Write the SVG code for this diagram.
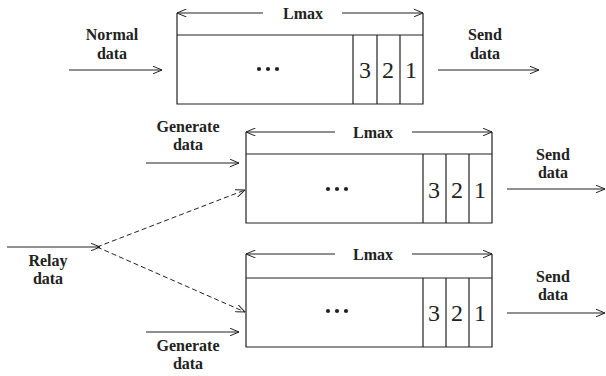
<svg xmlns="http://www.w3.org/2000/svg" width="606" height="376" viewBox="0 0 606 376">
<defs>
<marker id="ah" viewBox="0 0 10 8" refX="9.5" refY="4" markerWidth="10" markerHeight="8" markerUnits="userSpaceOnUse" orient="auto">
<path d="M0,0 L9.5,4 L0,8" fill="none" stroke="#222" stroke-width="1"/>
</marker>
</defs>
<style>
.ln{stroke:#222;stroke-width:1.2;fill:none}
.ar{stroke:#222;stroke-width:1.2;fill:none;marker-end:url(#ah)}
.da{stroke:#222;stroke-width:1;fill:none;stroke-dasharray:5 3;marker-end:url(#ah)}
text{font-family:'Liberation Serif','Times New Roman','DejaVu Serif',serif;fill:#222;text-anchor:middle}
.lb{font-weight:bold;font-size:16px}
.num{font-size:24px}
.dot{fill:#222}
</style>
<rect width="606" height="376" fill="#fff"/>

<g id="queue-top">
<path class="ln" d="M177,13 V104 H423 V13 M177,35 H423 M353,35 V104 M377,35 V104 M400,35 V104"/>
<line class="ar" x1="263" y1="13" x2="177" y2="13"/>
<line class="ar" x1="342" y1="13" x2="423" y2="13"/>
<text class="lb" x="303" y="19" font-family="Liberation Serif">Lmax</text>
<circle class="dot" cx="259" cy="69" r="2.1"/><circle class="dot" cx="268" cy="69" r="2.1"/><circle class="dot" cx="277" cy="69" r="2.1"/>
<text class="num" x="365" y="78">3</text>
<text class="num" x="388" y="78">2</text>
<text class="num" x="411" y="78">1</text>
</g>

<g id="queue-mid">
<path class="ln" d="M246,132 V223 H492 V132 M246,154 H492 M423,154 V223 M446,154 V223 M469,154 V223"/>
<line class="ar" x1="335" y1="132" x2="246" y2="132"/>
<line class="ar" x1="412" y1="132" x2="492" y2="132"/>
<text class="lb" x="373" y="138">Lmax</text>
<circle class="dot" cx="328" cy="189" r="2.1"/><circle class="dot" cx="337" cy="189" r="2.1"/><circle class="dot" cx="346" cy="189" r="2.1"/>
<text class="num" x="434" y="198">3</text>
<text class="num" x="457" y="198">2</text>
<text class="num" x="480" y="198">1</text>
</g>

<g id="queue-bot">
<path class="ln" d="M246,254 V347 H492 V254 M246,278 H492 M423,278 V347 M446,278 V347 M469,278 V347"/>
<line class="ar" x1="335" y1="254" x2="246" y2="254"/>
<line class="ar" x1="412" y1="254" x2="492" y2="254"/>
<text class="lb" x="373" y="260">Lmax</text>
<circle class="dot" cx="328" cy="311" r="2.1"/><circle class="dot" cx="337" cy="311" r="2.1"/><circle class="dot" cx="346" cy="311" r="2.1"/>
<text class="num" x="434" y="321">3</text>
<text class="num" x="457" y="321">2</text>
<text class="num" x="480" y="321">1</text>
</g>

<g id="labels">
<text class="lb" x="112" y="40">Normal</text>
<text class="lb" x="112" y="59">data</text>
<text class="lb" x="485" y="40">Send</text>
<text class="lb" x="485" y="59">data</text>
<text class="lb" x="188" y="132">Generate</text>
<text class="lb" x="188" y="150">data</text>
<text class="lb" x="553" y="160">Send</text>
<text class="lb" x="553" y="178">data</text>
<text class="lb" x="48" y="266">Relay</text>
<text class="lb" x="48" y="284">data</text>
<text class="lb" x="553" y="282">Send</text>
<text class="lb" x="553" y="300">data</text>
<text class="lb" x="188" y="351">Generate</text>
<text class="lb" x="188" y="369">data</text>
</g>

<g id="connectors">
<line class="ar" x1="69" y1="70" x2="162" y2="70"/>
<line class="ar" x1="438" y1="70" x2="539" y2="70"/>
<line class="ar" x1="146" y1="163" x2="239" y2="163"/>
<line class="ar" x1="507" y1="189" x2="605" y2="189"/>
<line class="ar" x1="7" y1="247" x2="100" y2="247"/>
<line class="da" x1="97" y1="247" x2="245" y2="190"/>
<line class="da" x1="97" y1="247" x2="245" y2="312"/>
<line class="ar" x1="146" y1="332" x2="239" y2="332"/>
<line class="ar" x1="507" y1="313" x2="605" y2="313"/>
</g>
</svg>
